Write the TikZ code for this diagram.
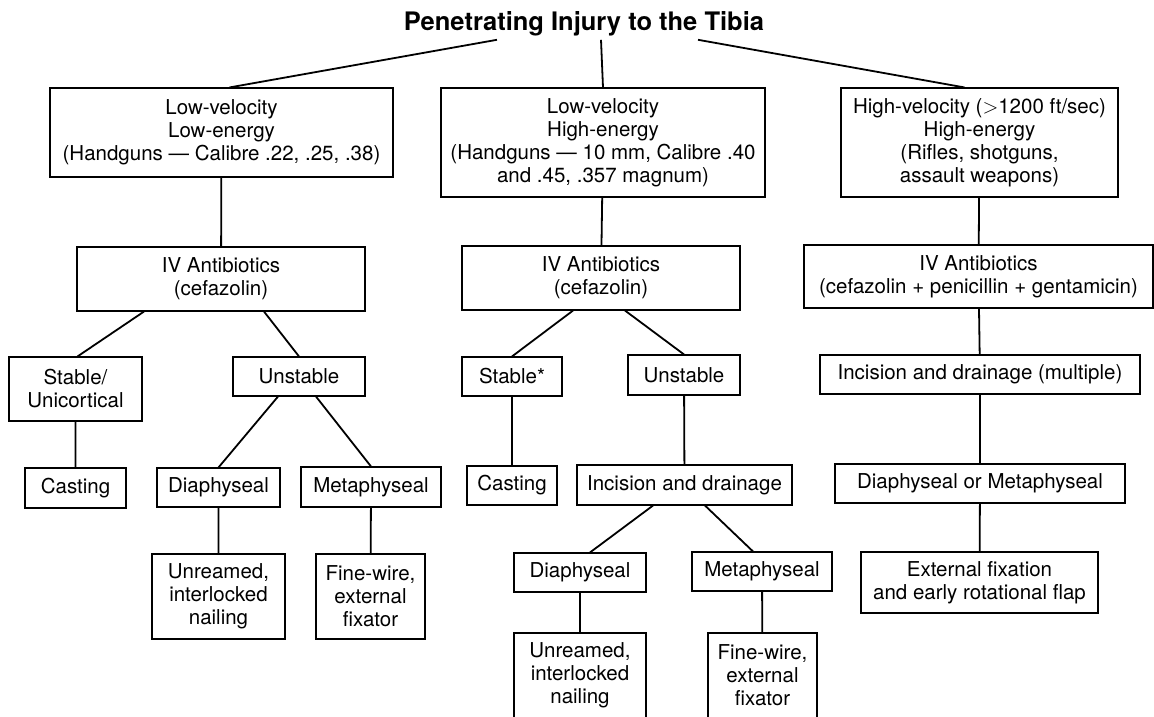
\documentclass[tikz,border=0pt]{standalone}
\usepackage{fontspec}
\setmainfont{TeX Gyre Heros}
\tikzset{
  box/.style={draw, line width=1.1pt, align=center, inner sep=0pt,
              font=\fontsize{20.5}{23}\selectfont},
  link/.style={line width=1.8pt},
}
\begin{document}
\begin{tikzpicture}[x=1pt, y=-1pt]
   \useasboundingbox (0,0) rectangle (1154,717);
   % title
   \node (T) [font=\fontsize{25.5}{29}\selectfont\bfseries, inner sep=3pt, anchor=base]
         at (584,31) {Penetrating Injury to the Tibia};
   % low velocity, low energy
   \node (L1)  [box, minimum width=343pt, minimum height=89pt] at (221.5,132.5)
         {Low-velocity\\Low-energy\\(Handguns — Calibre .22, .25, .38)};
   \node (L2)  [box, minimum width=288pt, minimum height=64pt] at (221,279)
         {IV Antibiotics\\(cefazolin)};
   \node (L3a) [box, minimum width=133pt, minimum height=64pt] at (75.5,389) {Stable/\\Unicortical};
   \node (L3b) [box, minimum width=132pt, minimum height=39pt] at (299,376.5) {Unstable};
   \node (L4a) [box, minimum width=101pt, minimum height=40pt] at (75.5,488) {Casting};
   \node (L4b) [box, minimum width=123pt, minimum height=39pt] at (218.5,487.5) {Diaphyseal};
   \node (L4c) [box, minimum width=140pt, minimum height=40pt] at (371,487) {Metaphyseal};
   \node (L5a) [box, minimum width=133pt, minimum height=85pt] at (218.5,596.5)
         {Unreamed,\\interlocked\\nailing};
   \node (L5b) [box, minimum width=109pt, minimum height=85pt] at (370.5,596.5)
         {Fine-wire,\\external\\fixator};
   % low velocity, high energy
   \node (M1)  [box, minimum width=324pt, minimum height=109pt] at (603,142.5)
         {Low-velocity\\High-energy\\(Handguns — 10 mm, Calibre .40\\and .45, .357 magnum)};
   \node (M2)  [box, minimum width=278pt, minimum height=64pt] at (601,278)
         {IV Antibiotics\\(cefazolin)};
   \node (M3a) [box, minimum width=100pt, minimum height=39pt] at (512,376.5) {Stable*};
   \node (M3b) [box, minimum width=112pt, minimum height=40pt] at (684,375) {Unstable};
   \node (M4a) [box, minimum width=90pt, minimum height=39pt] at (512,485.5) {Casting};
   \node (M4b) [box, minimum width=215pt, minimum height=40pt] at (684.5,485) {Incision and drainage};
   \node (M5a) [box, minimum width=132pt, minimum height=39pt] at (580,572.5) {Diaphyseal};
   \node (M5b) [box, minimum width=140pt, minimum height=39pt] at (762,571.5) {Metaphyseal};
   \node (M6a) [box, minimum width=132pt, minimum height=85pt] at (580,675.5)
         {Unreamed,\\interlocked\\nailing};
   \node (M6b) [box, minimum width=109pt, minimum height=85pt] at (762.5,675.5)
         {Fine-wire,\\external\\fixator};
   % high velocity
   \node (H1)  [box, minimum width=277pt, minimum height=109pt] at (979.5,142.5)
         {High-velocity ($>$1200 ft/sec)\\High-energy\\(Rifles, shotguns,\\assault weapons)};
   \node (H2)  [box, minimum width=349pt, minimum height=63pt] at (978.5,276.5)
         {IV Antibiotics\\(cefazolin + penicillin + gentamicin)};
   \node (H3)  [box, minimum width=320pt, minimum height=39pt] at (980,374.5)
         {Incision and drainage (multiple)};
   \node (H4)  [box, minimum width=290pt, minimum height=39pt] at (980,483.5)
         {Diaphyseal or Metaphyseal};
   \node (H5)  [box, minimum width=237pt, minimum height=61pt] at (979.5,582.5)
         {External fixation\\and early rotational flap};
   % connectors
   \draw[link]
     ([xshift=-87pt]T.south) -- ([xshift=8pt]L1.north)
     ([xshift=17pt]T.south)  -- (M1.north)
     ([xshift=114pt]T.south) -- ([xshift=-15pt]H1.north)
     (L1) -- (L2)
     ([xshift=-77pt]L2.south) -- ([xshift=2pt]L3a.north)
     ([xshift=43pt]L2.south)  -- (L3b.north)
     (L3a) -- (L4a)
     ([xshift=-21pt]L3b.south) -- (L4b.north)
     ([xshift=17pt]L3b.south)  -- (L4c.north)
     (L4b) -- (L5a)
     (L4c) -- (L5b)
     (M1) -- (M2)
     ([xshift=-28pt]M2.south) -- (M3a.north)
     ([xshift=24pt]M2.south)  -- (M3b.north)
     (M3a) -- (M4a)
     (M3b) -- (M4b)
     ([xshift=-31.5pt]M4b.south) -- ([xshift=10pt]M5a.north)
     ([xshift=20.5pt]M4b.south)  -- ([xshift=-9pt]M5b.north)
     (M5a) -- (M6a)
     (M5b) -- (M6b)
     (H1) -- (H2)
     (H2) -- (H3)
     (H3) -- (H4)
     (H4) -- (H5);
\end{tikzpicture}
\end{document}
